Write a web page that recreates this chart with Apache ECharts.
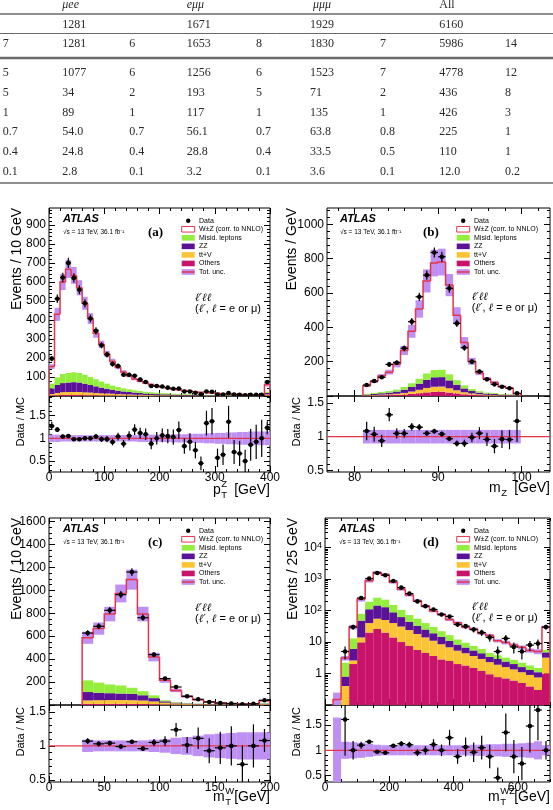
<!DOCTYPE html>
<html><head><meta charset="utf-8">
<script src="https://cdn.jsdelivr.net/npm/echarts@6/dist/echarts.min.js"></script>
<style>html,body{margin:0;padding:0;background:#fff}#c{width:553px;height:810px}</style>
</head><body><div id="c"></div>
<script>
// ---------------- Table data ----------------
const tableHeader = ['μee', 'eμμ', 'μμμ', 'All'];
const tableTotals = ['1281', '1671', '1929', '6160'];
const tableRows = [
  ['7','1281','6','1653','8','1830','7','5986','14'],
  ['5','1077','6','1256','6','1523','7','4778','12'],
  ['5','34','2','193','5','71','2','436','8'],
  ['1','89','1','117','1','135','1','426','3'],
  ['0.7','54.0','0.7','56.1','0.7','63.8','0.8','225','1'],
  ['0.4','24.8','0.4','28.8','0.4','33.5','0.5','110','1'],
  ['0.1','2.8','0.1','3.2','0.1','3.6','0.1','12.0','0.2']
];

// ---------------- (a) pT^Z ----------------
const ptzEdges = [0,10,20,30,40,50,60,70,80,90,100,110,120,130,140,150,160,170,180,190,200,210,220,230,240,250,260,270,280,290,300,310,320,330,340,350,360,370,380,390,400];
const ptzData = [197,512,624,701,622,559,488,408,343,267,218,168,158,112,112,106,87,74,53,53,50,44,38,39,24,24,17,9,24,22,8,8,15,7,6,4,6,6,6,74];
const ptzTotal = [155,430,600,668,635,570,488,408,330,272,222,183,152,127,106,89,78,68,60,53,47,42,37,33,29,26,23,20,18,16,14,12.5,11,10,9,8,7,6.5,6,60];
const ptzOthers = [3,4,5,5,5,5,4,4,4,3,3,3,2,2,2,2,2,1,1,1,1,1,1,1,1,1,0.5,0.5,0.5,0.5,0.5,0.5,0.5,0.5,0.3,0.3,0.3,0.3,0.3,3];
const ptzTtv = [7,12,15,16,16,16,15,14,12,11,10,9,8,7,6,5,5,4,4,3,3,3,2,2,2,2,2,1,1,1,1,1,1,1,1,1,0.5,0.5,0.5,5];
const ptzZZ = [30,42,48,50,52,50,46,40,35,30,25,21,18,15,13,11,9,8,7,6,5,5,4,4,3,3,3,2,2,2,2,2,1,1,1,1,1,1,1,8];
const ptzMisid = [25,40,48,50,52,50,46,42,37,32,27,22,19,16,14,12,10,9,8,7,6,5,5,4,4,3,3,3,2,2,2,2,2,1,1,1,1,1,1,6];
const ptzUnc = [0.08,0.08,0.07,0.07,0.07,0.07,0.07,0.07,0.07,0.07,0.07,0.07,0.07,0.07,0.07,0.07,0.08,0.08,0.08,0.08,0.08,0.08,0.09,0.09,0.09,0.1,0.1,0.1,0.11,0.11,0.12,0.12,0.13,0.13,0.14,0.14,0.15,0.15,0.15,0.15];
const ptzTicks = [0,100,200,300,400];
const ptzYTicks = [100,200,300,400,500,600,700,800,900];

// ---------------- (b) mZ ----------------
const mzEdges = [81.0,81.9,82.8,83.7,84.6,85.5,86.4,87.3,88.2,89.1,90.0,90.9,91.8,92.7,93.6,94.5,95.4,96.3,97.2,98.1,99.0,99.9];
const mzData = [64,87,109,184,194,278,433,578,704,836,811,627,423,281,200,142,97,68,54,45,16];
const mzTotal = [59,84,116,139,185,265,377,507,670,774,780,646,470,312,202,135,101,79,56,47,13];
const mzOthers = [2,3,4,5,6,8,12,16,21,24,25,20,15,10,7,5,3,3,2,2,0.5];
const mzTtv = [2,3,4,5,7,10,14,20,26,30,30,25,18,12,8,5,4,3,2,2,0.5];
const mzZZ = [4,6,8,10,13,19,27,36,47,55,55,46,33,22,14,10,7,6,4,3,1];
const mzMisid = [5,6,8,9,11,16,21,28,37,42,43,35,26,18,12,8,6,5,4,3,1];
const mzUnc = [0.1,0.1,0.1,0.1,0.1,0.1,0.1,0.1,0.1,0.1,0.1,0.1,0.1,0.1,0.1,0.1,0.1,0.1,0.1,0.1,0.1];
const mzTicks = [80,90,100];
const mzYTicks = [200,400,600,800,1000];

// ---------------- (c) mT^W ----------------
const mtwEdges = [30,40,50,60,70,80,90,100,110,120,130,140,150,160,170,180,190,200];
const mtwData = [627,686,825,962,1159,761,439,230,157,76,50,26,17,12,7,10,41];
const mtwTotal = [586,666,793,972,1093,793,418,215,127,75,45,28,17.5,12,9.6,10,38];
const mtwOthers = [10,10,10,10,10,9,7,5,4,3,2,2,1,1,1,1,3];
const mtwTtv = [30,32,33,33,32,30,24,15,10,7,5,4,3,2,2,1,5];
const mtwZZ = [73,65,60,57,56,46,29,12,6,4,3,2,1.5,1,1,1,4];
const mtwMisid = [102,88,76,70,52,35,24,10,5,3,2,2,1.5,1,1,1,4];
const mtwUnc = [0.09,0.08,0.08,0.08,0.08,0.08,0.09,0.1,0.12,0.13,0.15,0.17,0.18,0.19,0.2,0.2,0.2];
const mtwTicks = [0,50,100,150,200];
const mtwYTicks = [200,400,600,800,1000,1200,1400,1600];

// ---------------- (d) mT^WZ ----------------
const mtwzEdges = [25,50,75,100,125,150,175,200,225,250,275,300,325,350,375,400,425,450,475,500,525,550,575,600,625,650,675,700];
const mtwzData = [0,5,30,250,1040,1560,1320,870,535,345,195,138,108,75,65,36,32,25,20,14,5,13,7,5,8,9,30];
const mtwzTotal = [0.15,3.1,30,227,889,1608,1389,798,473,311,205,138,97,75,52,41,30,26,19,16,11,9.6,8,6.8,5.4,5,30];
const mtwzOthers = [0,0.05,2.0,9.8,20,26,20,14,10,7.5,5.6,4.5,3.6,2.8,2.5,2.0,1.8,1.5,1.2,0.95,0.77,0.7,0.6,0.5,0.39,0.3,1.0];
const mtwzTtv = [0,0.35,0.6,4.2,20,29,30,26,21,16.5,12.4,9.5,7.4,5.7,4.3,3.3,2.6,2.1,1.7,1.35,1.13,0.9,0.75,0.6,0.51,0.45,2.2];
const mtwzZZ = [0,0.4,3.4,34,70,90,78,48,31,20,15,11,8,6,4.2,3,2.3,1.8,1.5,1.1,1.0,0.8,0.65,0.5,0.4,0.35,1.5];
const mtwzMisid = [0,1.4,7,31,80,111,93,62,43,28,22,15,11,7.5,5.5,3.7,2.8,2.1,1.6,1.1,0.9,0.8,0.7,0.6,0.5,0.4,0.9];
const mtwzUnc = [0.65,0.17,0.16,0.15,0.13,0.11,0.1,0.1,0.1,0.1,0.1,0.1,0.1,0.1,0.1,0.1,0.1,0.11,0.11,0.12,0.12,0.13,0.13,0.14,0.15,0.18,0.1];
const mtwzTicks = [0,200,400,600];
const mtwzYTicks = [1,10,100,1000,10000];

const ratioTicks = [0.5,1,1.5];
const legendLabels = ['Data','W±Z (corr. to NNLO)','Misid. leptons','ZZ','tt+V','Others','Tot. unc.'];

// ---------------- styling / layout ----------------
const SANS = "'Liberation Sans', Arial, Helvetica, sans-serif";
const NARROW = "'Liberation Sans Narrow', 'Liberation Sans', Arial, sans-serif";
const SERIF = "'Liberation Serif', 'Times New Roman', serif";
const COL = {misid:'#93ee3d', zz:'#5c1199', ttv:'#fcc434', others:'#c9126a', unc:'#bf90f4', wz:'#e8344a'};

const panels = [
  {id:'a', left:49, width:221, top:208, mainH:188, ratioH:76,
   edges:ptzEdges, data:ptzData, total:ptzTotal, others:ptzOthers, ttv:ptzTtv, zz:ptzZZ, misid:ptzMisid, unc:ptzUnc,
   x:{min:0,max:400,major:100,minor:20,labels:ptzTicks}, y:{min:0,max:990,major:100,minor:20,labels:ptzYTicks},
   r:{min:0.26,max:1.93},
   atlas:[63,219], tag:[148,233,'(a)'], legend:[181.7,220.7], fs:[195,297.7],
   ytitle:[17,208,'Events / 10 GeV'], rtitle:[21,397], xt:{x0:213,y:490,main:'p',mw:7.8,sub:'T',sup:'Z',right:270}},
  {id:'b', left:327, width:223, top:208, mainH:188, ratioH:76,
   edges:mzEdges, data:mzData, total:mzTotal, others:mzOthers, ttv:mzTtv, zz:mzZZ, misid:mzMisid, unc:mzUnc,
   x:{min:76.7,max:103.4,major:10,minor:2,labels:mzTicks}, y:{min:0,max:1095,major:200,minor:40,labels:mzYTicks},
   r:{min:0.48,max:1.6},
   atlas:[340,219], tag:[423,233,'(b)'], legend:[456.7,220.7], fs:[471.7,296.7],
   ytitle:[292,208,'Events / GeV'], rtitle:[297,397], xt:{x0:489,y:488,main:'m',mw:11.7,sub:'Z',sup:'',right:550}},
  {id:'c', left:49, width:221, top:518, mainH:187, ratioH:77,
   edges:mtwEdges, data:mtwData, total:mtwTotal, others:mtwOthers, ttv:mtwTtv, zz:mtwZZ, misid:mtwMisid, unc:mtwUnc,
   x:{min:0,max:200,major:50,minor:10,labels:mtwTicks}, y:{min:0,max:1630,major:200,minor:50,labels:mtwYTicks},
   r:{min:0.47,max:1.6},
   atlas:[63,529], tag:[148,543,'(c)'], legend:[181.7,530.7], fs:[195,608.3],
   ytitle:[17,518,'Events / 10 GeV'], rtitle:[21,707], xt:{x0:213,y:797,main:'m',mw:11.7,sub:'T',sup:'W',right:270}},
  {id:'d', left:325, width:225, top:518, mainH:187, ratioH:77, log:true,
   edges:mtwzEdges, data:mtwzData, total:mtwzTotal, others:mtwzOthers, ttv:mtwzTtv, zz:mtwzZZ, misid:mtwzMisid, unc:mtwzUnc,
   x:{min:0,max:700,major:200,minor:50,labels:mtwzTicks}, y:{min:0.1,max:87000,labels:mtwzYTicks},
   r:{min:0.37,max:1.9},
   atlas:[339,529], tag:[423,543,'(d)'], legend:[456.7,530.7], fs:[471.7,606.7],
   ytitle:[293,518,'Events / 25 GeV'], rtitle:[297,707], xt:{x0:488,y:797,main:'m',mw:11.7,sub:'T',sup:'WZ',right:550}}
];

function multiples(min, max, step) {
  const out = []; const s = Math.ceil(min / step - 1e-9);
  for (let k = s; k * step <= max + 1e-9; k++) out.push(+(k * step).toFixed(6));
  return out;
}
const fmtNum = v => String(+(+v).toFixed(4));

const option = {animation:false, backgroundColor:'#fff', grid:[], xAxis:[], yAxis:[], series:[], graphic:{elements:[]}};
const G = option.graphic.elements;

function addGrid(l, t, w, h) {
  option.grid.push({left:l, top:t, width:w, height:h, show:true, borderColor:'#000', borderWidth:1, backgroundColor:'transparent', containLabel:false});
  return option.grid.length - 1;
}
function addAxes(arr, gi, isX, min, max, majors, minors, label) {
  const sides = isX ? ['bottom','top'] : ['left','right'];
  const first = arr.length;
  const mk = (pos, vals, len, lab) => ({
    gridIndex:gi, type:'value', min:min, max:max, position:pos,
    splitLine:{show:false}, axisLine:{show:false, onZero:false},
    axisTick:{show:true, inside:true, length:len, customValues:vals, lineStyle:{color:'#000', width:1}},
    axisLabel: lab || {show:false}, minorTick:{show:false}
  });
  arr.push(mk(sides[0], majors, 6, label));
  arr.push(mk(sides[0], minors, 3, null));
  arr.push(mk(sides[1], majors, 6, null));
  arr.push(mk(sides[1], minors, 3, null));
  return first;
}
function labelOpt(values, extra) {
  return Object.assign({show:true, customValues:values, fontSize:12, fontFamily:NARROW, color:'#000', margin:3, formatter:fmtNum}, extra || {});
}

// ---------------- render helpers ----------------
function rectRender(color, ymin) {
  return function (params, api) {
    const lo = api.value(0), hi = api.value(1);
    let y0 = api.value(2), y1 = api.value(3);
    if (y0 < ymin) y0 = ymin;
    if (!(y1 > y0)) return null;
    const a = api.coord([lo, y1]), b = api.coord([hi, y0]);
    return {type:'rect', shape:{x:a[0], y:a[1], width:b[0]-a[0], height:b[1]-a[1]}, style:{fill:color}};
  };
}
function stepRender(ymin) {
  return function (params, api) {
    const lo = api.value(0), hi = api.value(1);
    let prev = Math.max(api.value(2), ymin), top = Math.max(api.value(3), ymin);
    const pts = [api.coord([lo, prev]), api.coord([lo, top]), api.coord([hi, top])];
    if (api.value(4) === 1) pts.push(api.coord([hi, ymin]));
    return {type:'polyline', shape:{points:pts}, style:{stroke:COL.wz, lineWidth:1.5, fill:null}};
  };
}
function pointRender(params, api) {
  const lo = api.value(0), hi = api.value(1), v = api.value(2), e0 = api.value(3), e1 = api.value(4);
  const xc = (lo + hi) / 2;
  const c = api.coord([xc, v]), pl = api.coord([lo, v]), ph = api.coord([hi, v]);
  const pb = api.coord([xc, e0]), pt = api.coord([xc, e1]);
  return {type:'group', children:[
    {type:'line', shape:{x1:pl[0], y1:pl[1], x2:ph[0], y2:ph[1]}, style:{stroke:'#000', lineWidth:1.2}},
    {type:'line', shape:{x1:pb[0], y1:pb[1], x2:pt[0], y2:pt[1]}, style:{stroke:'#000', lineWidth:1.2}},
    {type:'circle', shape:{cx:c[0], cy:c[1], r:2.3}, style:{fill:'#000'}}
  ]};
}

// ---------------- build panels ----------------
panels.forEach(p => {
  const gm = addGrid(p.left, p.top, p.width, p.mainH);
  const gr = addGrid(p.left, p.top + p.mainH, p.width, p.ratioH);
  const xm = addAxes(option.xAxis, gm, true, p.x.min, p.x.max, multiples(p.x.min, p.x.max, p.x.major), multiples(p.x.min, p.x.max, p.x.minor), null);
  const xr = addAxes(option.xAxis, gr, true, p.x.min, p.x.max, multiples(p.x.min, p.x.max, p.x.major), multiples(p.x.min, p.x.max, p.x.minor), labelOpt(p.x.labels, {margin:0}));
  let ym, ymin;
  if (p.log) {
    ymin = p.y.min;
    ym = option.yAxis.length;
    option.yAxis.push({gridIndex:gm, type:'log', logBase:10, min:p.y.min, max:p.y.max, position:'left',
      axisLine:{show:false, onZero:false}, axisTick:{show:false}, axisLabel:{show:false}, splitLine:{show:false}});
    const lmin = Math.log10(p.y.min), lmax = Math.log10(p.y.max);
    const maj = multiples(lmin, lmax, 1);
    const mins = [];
    for (let n = Math.floor(lmin); n <= Math.ceil(lmax); n++) for (let k = 2; k <= 9; k++) {
      const v = n + Math.log10(k); if (v >= lmin && v <= lmax) mins.push(v);
    }
    addAxes(option.yAxis, gm, false, lmin, lmax, maj, mins, labelOpt(p.y.labels.map(v => Math.log10(v)), {
      formatter: v => { const e = Math.round(v); return e === 0 ? '1' : e === 1 ? '10' : '10{s|' + e + '}'; },
      rich:{s:{fontSize:9, fontFamily:NARROW, color:'#000', verticalAlign:'top', padding:[0,0,5,0]}}
    }));
  } else {
    ymin = p.y.min;
    ym = addAxes(option.yAxis, gm, false, p.y.min, p.y.max, multiples(p.y.min, p.y.max, p.y.major), multiples(p.y.min, p.y.max, p.y.minor), labelOpt(p.y.labels));
  }
  const yr = addAxes(option.yAxis, gr, false, p.r.min, p.r.max, ratioTicks, multiples(p.r.min, p.r.max, 0.1), labelOpt(ratioTicks));

  const n = p.total.length;
  const bins = [];
  for (let i = 0; i < n; i++) bins.push([p.edges[i], p.edges[i + 1]]);
  // stacked backgrounds
  const comps = [[p.others, COL.others], [p.ttv, COL.ttv], [p.zz, COL.zz], [p.misid, COL.misid]];
  const cum = new Array(n).fill(0);
  comps.forEach(([arr, color]) => {
    const items = bins.map((b, i) => { const lo = cum[i]; cum[i] += arr[i]; return [b[0], b[1], Math.max(lo, ymin), Math.max(cum[i], ymin)]; });
    option.series.push({type:'custom', xAxisIndex:xm, yAxisIndex:ym, clip:true, z:2, renderItem:rectRender(color, ymin), data:items, encode:{x:[0,1], y:[2,3]}});
  });
  // total uncertainty band
  option.series.push({type:'custom', xAxisIndex:xm, yAxisIndex:ym, clip:true, z:3, renderItem:rectRender(COL.unc, ymin),
    data:bins.map((b, i) => [b[0], b[1], Math.max(p.total[i] * (1 - p.unc[i]), ymin), Math.max(p.total[i] * (1 + p.unc[i]), ymin)]), encode:{x:[0,1], y:[2,3]}});
  // WZ + total outline (red step)
  option.series.push({type:'custom', xAxisIndex:xm, yAxisIndex:ym, clip:true, z:4, renderItem:stepRender(ymin),
    data:bins.map((b, i) => [b[0], b[1], i === 0 ? ymin : Math.max(p.total[i - 1], ymin), Math.max(p.total[i], ymin), i === n - 1 ? 1 : 0]), encode:{x:[0,1], y:[2,3]}});
  // data points
  const pts = [], rpts = [];
  bins.forEach((b, i) => {
    const d = p.data[i]; if (!(d > 0)) return;
    const e = Math.sqrt(d);
    pts.push([b[0], b[1], d, Math.max(d - e, ymin * 1.0001), d + e]);
    const r = d / p.total[i], re = e / p.total[i];
    rpts.push([b[0], b[1], r, r - re, r + re]);
  });
  option.series.push({type:'custom', xAxisIndex:xm, yAxisIndex:ym, clip:true, z:6, renderItem:pointRender, data:pts, encode:{x:[0,1], y:[2,3,4]}});
  // ratio panel
  option.series.push({type:'custom', xAxisIndex:xr, yAxisIndex:yr, clip:true, z:2, renderItem:rectRender(COL.unc, -10),
    data:bins.map((b, i) => [b[0], b[1], 1 - p.unc[i], 1 + p.unc[i]]), encode:{x:[0,1], y:[2,3]}});
  option.series.push({type:'line', xAxisIndex:xr, yAxisIndex:yr, z:3, showSymbol:false, symbol:'none', silent:true,
    lineStyle:{color:COL.wz, width:1.2}, data:[[p.x.min, 1], [p.x.max, 1]]});
  option.series.push({type:'custom', xAxisIndex:xr, yAxisIndex:yr, clip:true, z:6, renderItem:pointRender, data:rpts, encode:{x:[0,1], y:[2,3,4]}});

  // ---- decorations ----
  G.push({type:'text', x:p.atlas[0], y:p.atlas[1], z:100, style:{text:'ATLAS', fontSize:11, fontWeight:'bold', fontStyle:'italic', fontFamily:SANS, fill:'#000', align:'left', verticalAlign:'middle'}});
  G.push({type:'text', x:p.atlas[0], y:p.atlas[1] + 13.3, z:100, style:{text:'√s = 13 TeV, 36.1 fb⁻¹', fontSize:6.5, fontFamily:SANS, fill:'#000', align:'left', verticalAlign:'middle'}});
  G.push({type:'text', x:p.tag[0], y:p.tag[1], z:100, style:{text:p.tag[2], fontSize:13, fontWeight:'bold', fontFamily:SERIF, fill:'#000', align:'left', verticalAlign:'middle'}});
  // legend
  const [lx, ly] = p.legend;
  const boxFill = [null, '#fff', COL.misid, COL.zz, COL.ttv, COL.others, COL.unc];
  legendLabels.forEach((t, k) => {
    const yy = ly + k * 8.55;
    if (k === 0) {
      G.push({type:'circle', z:100, shape:{cx:lx + 6.5, cy:yy, r:2.2}, style:{fill:'#000'}});
    } else {
      G.push({type:'rect', z:100, shape:{x:lx, y:yy - 2.8, width:13, height:5.6}, style:{fill:boxFill[k], stroke: k === 1 ? COL.wz : null, lineWidth:1}});
      if (k === 6) G.push({type:'line', z:101, shape:{x1:lx, y1:yy, x2:lx + 13, y2:yy}, style:{stroke:COL.wz, lineWidth:1.5}});
    }
    G.push({type:'text', z:100, x:lx + 17.3, y:yy, style:{text:t, fontSize:7, fontFamily:SANS, fill:'#000', align:'left', verticalAlign:'middle'}});
  });
  // final state label
  G.push({type:'text', z:100, x:p.fs[0], y:p.fs[1], style:{text:'ℓ′ℓℓ', fontSize:11, fontStyle:'italic', fontFamily:"'DejaVu Serif', serif", fill:'#000', align:'left', verticalAlign:'middle'}});
  G.push({type:'text', z:100, x:p.fs[0], y:p.fs[1] + 11, style:{text:'{n|(}{l|ℓ′}{n|, }{l|ℓ}{n| = e or μ)}', fill:'#000', align:'left', verticalAlign:'middle',
    rich:{n:{fontSize:11, fontFamily:SANS, fill:'#000'}, l:{fontSize:11, fontStyle:'italic', fontFamily:"'DejaVu Serif', serif", fill:'#000'}}}});
  // axis titles
  G.push({type:'text', z:100, x:p.ytitle[0], y:p.ytitle[1], rotation:Math.PI / 2, style:{text:p.ytitle[2], fontSize:14, fontFamily:SANS, fill:'#000', align:'right', verticalAlign:'middle'}});
  G.push({type:'text', z:100, x:p.rtitle[0], y:p.rtitle[1], rotation:Math.PI / 2, style:{text:'Data / MC', fontSize:11, fontFamily:SANS, fill:'#000', align:'right', verticalAlign:'middle'}});
  const xt = p.xt;
  G.push({type:'text', z:100, x:xt.x0, y:xt.y, style:{text:xt.main, fontSize:14, fontFamily:SANS, fill:'#000', align:'left', verticalAlign:'middle'}});
  if (xt.sub) G.push({type:'text', z:100, x:xt.x0 + xt.mw + 0.5, y:xt.y + 5, style:{text:xt.sub, fontSize:9.5, fontFamily:SANS, fill:'#000', align:'left', verticalAlign:'middle'}});
  if (xt.sup) G.push({type:'text', z:100, x:xt.x0 + xt.mw + 0.5, y:xt.y - 6, style:{text:xt.sup, fontSize:9.5, fontFamily:SANS, fill:'#000', align:'left', verticalAlign:'middle'}});
  G.push({type:'text', z:100, x:xt.right, y:xt.y, style:{text:'[GeV]', fontSize:14, fontFamily:SANS, fill:'#000', align:'right', verticalAlign:'middle'}});
});

// ---------------- table ----------------
const tCols = [2.7, 62.3, 129.3, 186.7, 256, 310, 380, 439.3, 505];
const tHeadCols = [62.3, 186.7, 313, 439.3];
const tRowY = [44.3, 73.3, 93.3, 112.7, 132.3, 151.7, 171.7];
const tStyle = (t, italic) => ({text:t, fontSize:12, fontFamily:SERIF, fontStyle: italic ? 'italic' : 'normal', fill:'#2a2a2a', align:'left', verticalAlign:'middle'});
tableHeader.forEach((t, i) => G.push({type:'text', z:100, x:tHeadCols[i], y:5, style:tStyle(t, i < 3)}));
tableTotals.forEach((t, i) => G.push({type:'text', z:100, x:[62.3, 186.7, 310, 439.3][i], y:25, style:tStyle(t, false)}));
tableRows.forEach((row, r) => row.forEach((t, c) => G.push({type:'text', z:100, x:tCols[c], y:tRowY[r], style:tStyle(t, false)})));
[[14, 1.6], [33.5, 1], [58, 2.6], [183, 1.6]].forEach(([y, w]) =>
  G.push({type:'line', z:100, shape:{x1:0, y1:y, x2:553, y2:y}, style:{stroke:'#6a6a6a', lineWidth:w}}));

const chart = echarts.init(document.getElementById('c'), null, {renderer:'canvas', width:553, height:810});
chart.setOption(option);
</script>
</body></html>
